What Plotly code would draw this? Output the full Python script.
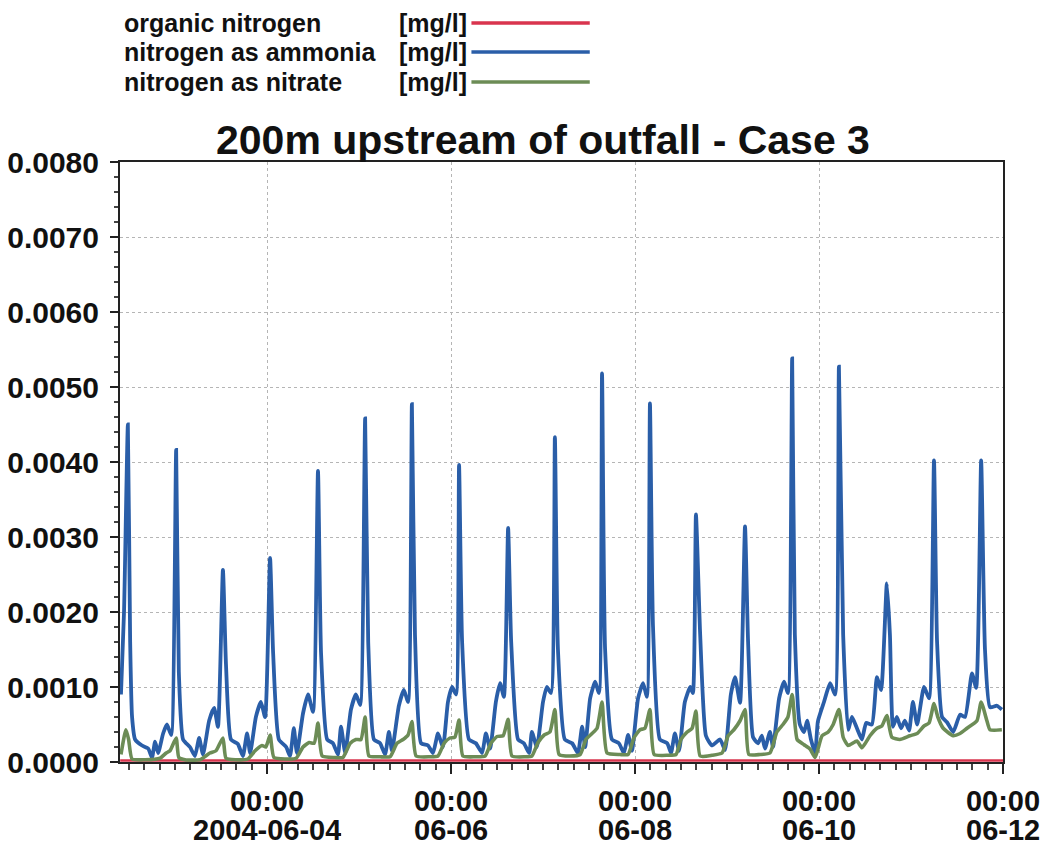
import pandas as pd
import plotly.graph_objects as go

# ---- data (hours since 2004-06-02 00:00, concentrations in mg/l) ----
T0 = pd.Timestamp("2004-06-02 00:00")

ammonia_hours = [
    9.9, 10.7, 11.7, 12.3, 12.8, 13.6, 15.4, 17.0, 18.0, 18.8, 19.6, 20.9, 21.9, 23.0,
    24.3, 25.0, 26.1, 27.9, 29.2, 30.3, 31.3, 32.9, 34.2, 35.2,
    36.5, 37.3, 38.6, 40.4, 41.7, 42.8, 43.6, 45.1, 46.4, 47.5,
    48.8, 49.6, 51.1, 53.0, 54.0, 55.0, 55.8, 57.4, 58.7, 60.0,
    61.3, 62.1, 63.7, 65.2, 66.5, 67.3, 68.4, 69.9, 71.2, 72.3,
    73.6, 74.4, 75.9, 77.5, 78.8, 79.8, 80.6, 82.4, 83.7, 84.8,
    85.8, 86.6, 88.2, 90.0, 91.3, 92.6, 93.9, 95.2, 96.3, 97.3,
    98.1, 98.9, 100.7, 102.5, 104.1, 105.1, 106.2, 107.7, 108.8, 109.8,
    110.9, 111.7, 113.5, 115.0, 116.4, 117.1, 118.4, 120.0, 121.0, 122.1,
    123.1, 123.9, 125.7, 127.6, 129.1, 130.2, 131.0, 132.3, 133.6, 134.6,
    135.4, 136.2, 138.0, 139.8, 141.1, 142.2, 143.2, 144.8, 146.1, 147.1,
    147.9, 148.7, 150.5, 152.4, 153.4, 154.4, 155.5, 157.0, 158.4, 159.1,
    159.9, 161.0, 162.5, 164.1, 166.2, 167.5, 169.0, 170.1, 171.4,
    172.7, 173.5, 174.8, 176.1, 177.1, 177.9, 179.2, 180.0, 181.6, 182.9, 183.9,
    185.0, 185.7, 187.0, 188.1, 188.9, 189.9, 191.0, 191.7, 193.3, 194.9, 196.2,
    197.2, 198.3, 199.6, 200.6, 201.9, 203.2, 204.3, 205.8, 207.1, 208.2,
    209.7, 210.5, 211.3, 212.3, 213.4, 214.4, 215.5, 216.5, 217.6, 219.4, 220.7,
    222.0, 222.8, 224.1, 225.4, 227.0, 228.8, 230.1, 231.9, 233.0,
    234.3, 235.3, 236.6, 238.4, 239.7,
]
ammonia_vals = [
    0.00090, 0.00200, 0.00450, 0.00160, 0.00060, 0.00030, 0.00022, 0.00018, 0.00006, 0.00027, 0.00012, 0.00038, 0.00050, 0.00036,
    0.00416, 0.00120, 0.00030, 0.00020, 0.00008, 0.00032, 0.00010, 0.00055, 0.00072, 0.00047,
    0.00256, 0.00130, 0.00030, 0.00024, 0.00008, 0.00038, 0.00012, 0.00060, 0.00080, 0.00060,
    0.00272, 0.00145, 0.00030, 0.00020, 0.00008, 0.00045, 0.00012, 0.00065, 0.00090, 0.00067,
    0.00388, 0.00145, 0.00030, 0.00025, 0.00010, 0.00047, 0.00012, 0.00070, 0.00090, 0.00076,
    0.00458, 0.00160, 0.00030, 0.00025, 0.00010, 0.00040, 0.00015, 0.00075, 0.00096, 0.00080,
    0.00477, 0.00170, 0.00025, 0.00022, 0.00012, 0.00038, 0.00020, 0.00080, 0.00100, 0.00090,
    0.00396, 0.00160, 0.00030, 0.00025, 0.00012, 0.00038, 0.00018, 0.00080, 0.00105, 0.00087,
    0.00312, 0.00160, 0.00030, 0.00025, 0.00012, 0.00040, 0.00020, 0.00080, 0.00100, 0.00092,
    0.00433, 0.00150, 0.00030, 0.00025, 0.00012, 0.00047, 0.00020, 0.00085, 0.00107, 0.00092,
    0.00518, 0.00150, 0.00030, 0.00025, 0.00012, 0.00036, 0.00015, 0.00085, 0.00105, 0.00087,
    0.00478, 0.00180, 0.00030, 0.00025, 0.00012, 0.00038, 0.00015, 0.00080, 0.00100, 0.00092,
    0.00330, 0.00170, 0.00035, 0.00022, 0.00030, 0.00016, 0.00090, 0.00113, 0.00079,
    0.00314, 0.00160, 0.00033, 0.00025, 0.00035, 0.00018, 0.00040, 0.00020, 0.00085, 0.00107, 0.00092,
    0.00538, 0.00170, 0.00050, 0.00040, 0.00055, 0.00030, 0.00012, 0.00054, 0.00080, 0.00105, 0.00090,
    0.00527, 0.00170, 0.00043, 0.00060, 0.00045, 0.00030, 0.00052, 0.00050, 0.00113, 0.00096,
    0.00238, 0.00170, 0.00047, 0.00060, 0.00045, 0.00055, 0.00042, 0.00080, 0.00050, 0.00100, 0.00085,
    0.00402, 0.00160, 0.00060, 0.00053, 0.00040, 0.00063, 0.00060, 0.00118, 0.00099,
    0.00402, 0.00150, 0.00073, 0.00075, 0.00070,
]

nitrate_hours = [
    9.9, 11.2, 11.9, 12.8, 16.2, 20.1, 21.7, 22.7, 24.3, 25.0, 26.6, 30.5,
    33.1, 34.7, 36.5, 37.3, 39.7, 43.0, 44.9, 46.7, 47.7, 48.8, 49.8, 52.7,
    55.6, 57.4, 59.0, 60.3, 61.3, 62.4, 65.7, 67.8, 69.7, 71.2, 72.5, 73.6, 74.6,
    77.5, 80.1, 81.9, 83.5, 84.8, 85.8, 86.9, 90.5, 92.6, 94.2, 95.7, 97.0, 98.1, 99.1,
    102.3, 104.9, 106.4, 108.0, 109.6, 110.9, 111.9, 115.3, 117.1, 118.7, 120.3, 121.8,
    123.1, 124.2, 127.0, 129.7, 131.2, 132.8, 134.1, 135.4, 136.7, 140.1, 142.2, 143.7,
    145.3, 146.6, 147.9, 149.0, 152.6, 154.7, 156.0, 157.6, 158.9, 159.9, 161.0,
    164.1, 166.7, 168.3, 169.8, 171.4, 172.7, 173.7, 176.6, 179.2, 181.0, 182.6,
    183.9, 185.0, 186.3, 188.1, 189.7, 191.0, 192.8, 194.4, 195.7, 197.2, 198.3,
    199.6, 201.9, 203.2, 205.3, 207.1, 208.4, 209.7, 211.0, 213.1, 215.7, 217.6,
    219.4, 220.7, 222.0, 223.0, 224.4, 227.0, 228.8, 230.6, 233.2, 234.3, 235.8,
    236.6, 239.7,
]
nitrate_vals = [
    0.00010, 0.00043, 0.00030, 0.00004, 0.00003, 0.00005, 0.00012, 0.00015, 0.00032, 0.00006, 0.00003, 0.00003,
    0.00012, 0.00015, 0.00032, 0.00005, 0.00003, 0.00004, 0.00015, 0.00022, 0.00020, 0.00036, 0.00006, 0.00004,
    0.00005, 0.00020, 0.00026, 0.00025, 0.00052, 0.00008, 0.00006, 0.00006, 0.00025, 0.00030, 0.00030, 0.00060, 0.00008,
    0.00007, 0.00007, 0.00025, 0.00030, 0.00036, 0.00054, 0.00008, 0.00007, 0.00008, 0.00025, 0.00032, 0.00033, 0.00056, 0.00008,
    0.00007, 0.00008, 0.00025, 0.00034, 0.00035, 0.00057, 0.00008, 0.00007, 0.00008, 0.00026, 0.00036, 0.00040,
    0.00070, 0.00010, 0.00008, 0.00010, 0.00030, 0.00038, 0.00045, 0.00080, 0.00012, 0.00010, 0.00010, 0.00032,
    0.00043, 0.00045, 0.00070, 0.00010, 0.00009, 0.00010, 0.00030, 0.00040, 0.00045, 0.00068, 0.00008,
    0.00009, 0.00012, 0.00035, 0.00043, 0.00055, 0.00070, 0.00010, 0.00010, 0.00012, 0.00040, 0.00050,
    0.00060, 0.00090, 0.00030, 0.00023, 0.00017, 0.00006, 0.00035, 0.00040, 0.00050, 0.00070, 0.00033,
    0.00022, 0.00028, 0.00019, 0.00035, 0.00045, 0.00048, 0.00062, 0.00033, 0.00030, 0.00035, 0.00038,
    0.00048, 0.00052, 0.00078, 0.00060, 0.00045, 0.00035, 0.00038, 0.00045, 0.00055, 0.00080, 0.00055,
    0.00043, 0.00043,
]

organic_hours = [9.7, 60.0, 120.0, 180.0, 240.0]
organic_vals = [0.00002, 0.00002, 0.00002, 0.00002, 0.00002]

series_names = ["organic nitrogen", "nitrogen as ammonia", "nitrogen as nitrate"]
series_units = ["[mg/l]", "[mg/l]", "[mg/l]"]
series_colors = ["#d9344e", "#2a5ea8", "#6c8c56"]

major_ticks = ["2004-06-04", "2004-06-06", "2004-06-08", "2004-06-10", "2004-06-12"]
major_line1 = ["00:00", "00:00", "00:00", "00:00", "00:00"]
major_line2 = ["2004-06-04", "06-06", "06-08", "06-10", "06-12"]

title_text = "200m upstream of outfall - Case 3"

def to_time(hours):
    return [T0 + pd.Timedelta(hours=h) for h in hours]

FONT = "Liberation Sans, Arial, sans-serif"

fig = go.Figure()
data = [
    (organic_hours, organic_vals, 2.4),
    (ammonia_hours, ammonia_vals, 3.8),
    (nitrate_hours, nitrate_vals, 3.6),
]
for (hrs, vals, w), name, col in zip(data, series_names, series_colors):
    fig.add_trace(go.Scatter(x=to_time(hrs), y=vals, mode="lines", name=name,
                             line=dict(color=col, width=w, shape="spline", smoothing=0.5),
                             showlegend=False))

# custom legend (text columns with line samples on the right); plot area is 600px tall
row_y = [(762 - 23) / 600, (762 - 52) / 600, (762 - 82) / 600]
for name, unit, col, yy in zip(series_names, series_units, series_colors, row_y):
    fig.add_annotation(xref="paper", yref="paper", x=0.002, y=yy, text=name,
                       showarrow=False, xanchor="left", yanchor="middle",
                       font=dict(family=FONT, size=25, color="#111", weight="bold"))
    fig.add_annotation(xref="paper", yref="paper", x=0.314, y=yy, text=unit,
                       showarrow=False, xanchor="left", yanchor="middle",
                       font=dict(family=FONT, size=25, color="#111", weight="bold"))
    fig.add_shape(type="line", xref="paper", yref="paper", x0=0.398, x1=0.532,
                  y0=yy, y1=yy, line=dict(color=col, width=3.5))

# second line of the x tick labels
for d, t in zip(major_ticks, major_line2):
    fig.add_annotation(xref="x", yref="paper", x=d, y=-(830 - 762) / 600, text=t,
                       showarrow=False, xanchor="center", yanchor="middle",
                       height=24, valign="middle", borderpad=0,
                       font=dict(family=FONT, size=29, color="#111", weight="bold"))

# the page adds an 8px body margin, so the figure is 8px smaller than the window
fig.update_layout(
    width=1040, height=839,
    margin=dict(l=112, r=45, t=154, b=85),
    paper_bgcolor="white", plot_bgcolor="white",
    title=dict(text=title_text, x=0.479, xref="paper", xanchor="center",
               y=1 - 132 / 839, yref="container", yanchor="middle",
               font=dict(family=FONT, size=41, color="#111", weight="bold")),
    showlegend=False,
)
fig.update_xaxes(
    type="date", automargin=False,
    range=[T0 + pd.Timedelta(hours=9.65), pd.Timestamp("2004-06-12 00:00")],
    tickmode="array", tickvals=major_ticks, ticktext=major_line1,
    ticks="outside", ticklen=10, tickwidth=1.5, tickcolor="#222",
    ticklabelstandoff=2,
    tickfont=dict(family=FONT, size=29, color="#111", weight="bold"),
    minor=dict(dtick=4 * 3600 * 1000, tick0="2004-06-02", ticks="outside",
               ticklen=6, tickcolor="#444", showgrid=False),
    showgrid=True, gridcolor="#b5b5b5", griddash="dot", gridwidth=1,
    showline=True, linecolor="#222", linewidth=2, mirror=True,
    zeroline=False,
)
fig.update_yaxes(
    automargin=False,
    range=[0, 0.008], dtick=0.001, tick0=0, tickformat=".4f",
    ticks="outside", ticklen=8, tickwidth=1.5, tickcolor="#222",
    ticklabelstandoff=5,
    tickfont=dict(family=FONT, size=30, color="#111", weight="bold"),
    minor=dict(dtick=0.0002, ticks="outside", ticklen=4, tickcolor="#444", showgrid=False),
    showgrid=True, gridcolor="#b5b5b5", griddash="dot", gridwidth=1,
    showline=True, linecolor="#222", linewidth=2, mirror=True,
    zeroline=False,
)

fig.write_html("out.html")
